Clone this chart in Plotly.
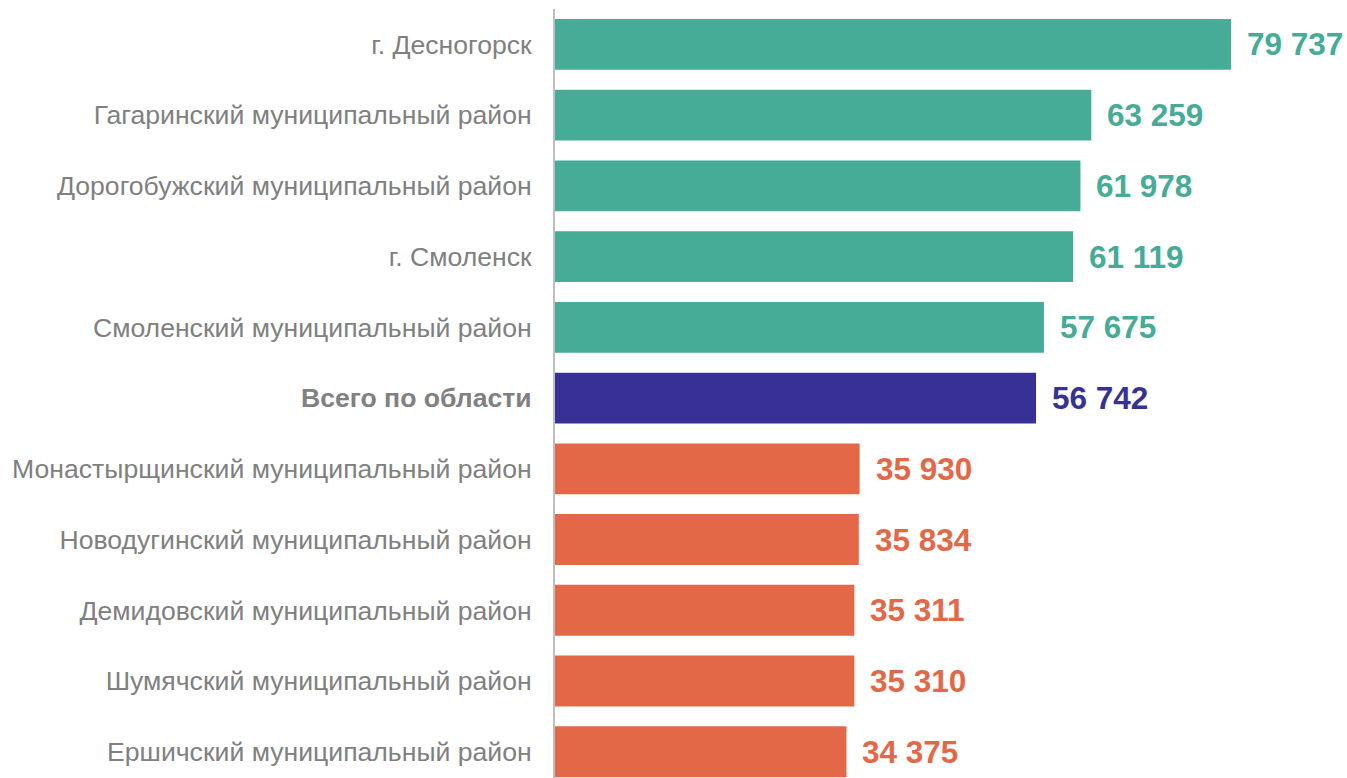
import plotly.graph_objects as go

categories = [
    "г. Десногорск",
    "Гагаринский муниципальный район",
    "Дорогобужский муниципальный район",
    "г. Смоленск",
    "Смоленский муниципальный район",
    "Всего по области",
    "Монастырщинский муниципальный район",
    "Новодугинский муниципальный район",
    "Демидовский муниципальный район",
    "Шумячский муниципальный район",
    "Ершичский муниципальный район",
]
values = [79737, 63259, 61978, 61119, 57675, 56742, 35930, 35834, 35311, 35310, 34375]
groups = ["top", "top", "top", "top", "top", "total", "low", "low", "low", "low", "low"]

palette = {"top": "#46AB97", "total": "#373195", "low": "#E36847"}
colors = [palette[g] for g in groups]

def fmt(v):
    return f"{v:,}".replace(",", " ")

ticktext = [f"<b>{c}</b>" if g == "total" else c for c, g in zip(categories, groups)]

fig = go.Figure()
fig.add_trace(go.Bar(
    x=values,
    y=categories,
    orientation="h",
    marker=dict(color=colors, line=dict(width=0)),
    hoverinfo="x+y",
))

for c, v, col in zip(categories, values, colors):
    fig.add_annotation(
        x=v, y=c, text=f"<b>{fmt(v)}</b>", showarrow=False,
        xanchor="left", yanchor="middle", xshift=14,
        font=dict(family="Liberation Sans, Arial", size=31.5, color=col),
    )

fig.update_layout(
    width=1347, height=778,
    margin=dict(l=555, r=0, t=9, b=0),
    plot_bgcolor="white", paper_bgcolor="white",
    bargap=0.28,
    showlegend=False,
    xaxis=dict(range=[0, 93420], visible=False, fixedrange=True),
    yaxis=dict(
        type="category",
        categoryorder="array", categoryarray=categories,
        tickmode="array", tickvals=categories, ticktext=ticktext,
        range=[10.37, -0.5],
        showline=True, linecolor="#BFBFBF", linewidth=2,
        showgrid=False, ticks="", ticklabelstandoff=16,
        tickfont=dict(family="Liberation Sans, Arial", size=26.6, color="#808080"),
    ),
)

fig.write_html(
    "out.html",
    config={"displayModeBar": False},
    post_script="document.body.style.margin='0';document.body.style.overflow='hidden';",
)
